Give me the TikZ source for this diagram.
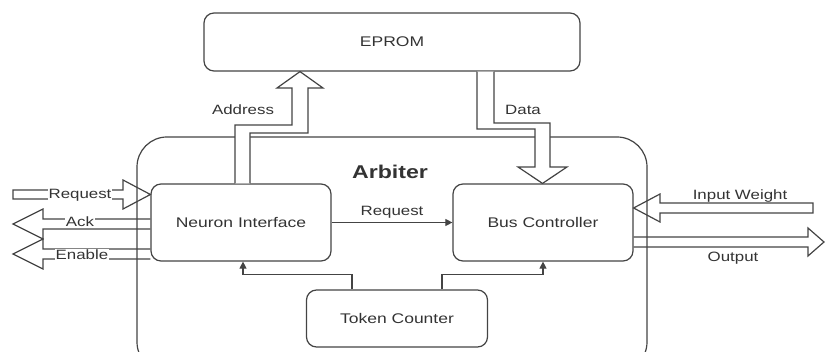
\documentclass[tikz,border=0pt]{standalone}
\usepackage{fontspec}
\setmainfont{Liberation Sans}[FakeStretch=1.25]
\usetikzlibrary{arrows.meta}
\definecolor{lc}{HTML}{444444}
\definecolor{tc}{HTML}{333333}
\begin{document}
\begin{tikzpicture}[x=1pt,y=-1pt,
  every node/.style={text=tc},
  blk/.style={draw=lc, line width=1.2pt, rounded corners=10pt, font=\fontsize{14}{16}\selectfont},
  lbl/.style={font=\fontsize{13.5}{15}\selectfont, inner sep=1pt},
  hol/.style={draw=lc, line width=1.2pt, line join=miter},
  thin/.style={draw=lc, line width=1.1pt, -{Triangle[length=7pt,width=7pt]}}]
\useasboundingbox (0,0) rectangle (826,352);
\clip (0,0) rectangle (826,352);
% Arbiter container
\draw[lc, line width=1.2pt, rounded corners=30pt] (137,137) rectangle (647,372);
\node[font=\fontsize{18.5}{20}\selectfont\bfseries] (arb) at (390,172) {Arbiter};
% blocks
\node[blk, minimum width=376pt, minimum height=58pt] (eprom) at (392,42) {EPROM};
\node[blk, minimum width=180pt, minimum height=77pt] (ni) at (241,222.5) {Neuron Interface};
\node[blk, minimum width=180pt, minimum height=77pt] (bc) at (543,222.5) {Bus Controller};
\node[blk, minimum width=181pt, minimum height=57pt] (tok) at (397,318.5) {Token Counter};
% internal connectors
\draw[thin] (ni.east) -- (bc.west) node[lbl, midway, above=3pt] {Request};
\draw[thin] ([xshift=-45pt]tok.north) -- ++(0,-15) -| ([xshift=2pt]ni.south);
\draw[thin] ([xshift=45pt]tok.north) -- ++(0,-15) -| (bc.south);
% Address (hollow, bent)
\draw[hol, fill=white] (ni.north -| 235,0) -- (235,125) -- (292,125) -- (292,88) -- (277,88)
  -- (eprom.south -| 300,0) -- (323,88) -- (308,88) -- (308,133) -- (250,133) -- (ni.north -| 250,0);
\node[lbl] (addr) at (243,110) {Address};
% Data (hollow, bent)
\draw[hol, fill=white] (eprom.south -| 477,0) -- (477,129) -- (535,129) -- (535,167) -- (518,167)
  -- (bc.north -| 542.5,0) -- (567,167) -- (550,167) -- (550,123) -- (494,123) -- (eprom.south -| 494,0);
\node[lbl] (data) at (523,110) {Data};
% Left side hollow arrows
\draw[hol] (13,190) -- (123,190) -- (123,180) -- (ni.west |- 0,194.5) -- (123,209) -- (123,199) -- (13,199) -- cycle;
\node[lbl, fill=white] (req) at (80,195) {Request};
\draw[hol] (ni.west |- 0,219) -- (43,219) -- (43,209) -- (13,224) -- (43,239) -- (43,229) -- (ni.west |- 0,229);
\node[lbl, fill=white] (ack) at (80,222) {Ack};
\draw[hol] (ni.west |- 0,249) -- (43,249) -- (43,239) -- (13,254) -- (43,269) -- (43,259) -- (ni.west |- 0,259);
\node[lbl, fill=white] (en) at (82,255) {Enable};
% Right side hollow arrows
\draw[hol] (813,203) -- (660,203) -- (660,194) -- (bc.east |- 0,208) -- (660,222) -- (660,213) -- (813,213) -- cycle;
\node[lbl] (iw) at (740,196) {Input Weight};
\draw[hol] (bc.east |- 0,237) -- (808,237) -- (808,228) -- (824,242) -- (808,256) -- (808,247) -- (bc.east |- 0,247);
\node[lbl] (out) at (733,258) {Output};
\end{tikzpicture}
\end{document}
